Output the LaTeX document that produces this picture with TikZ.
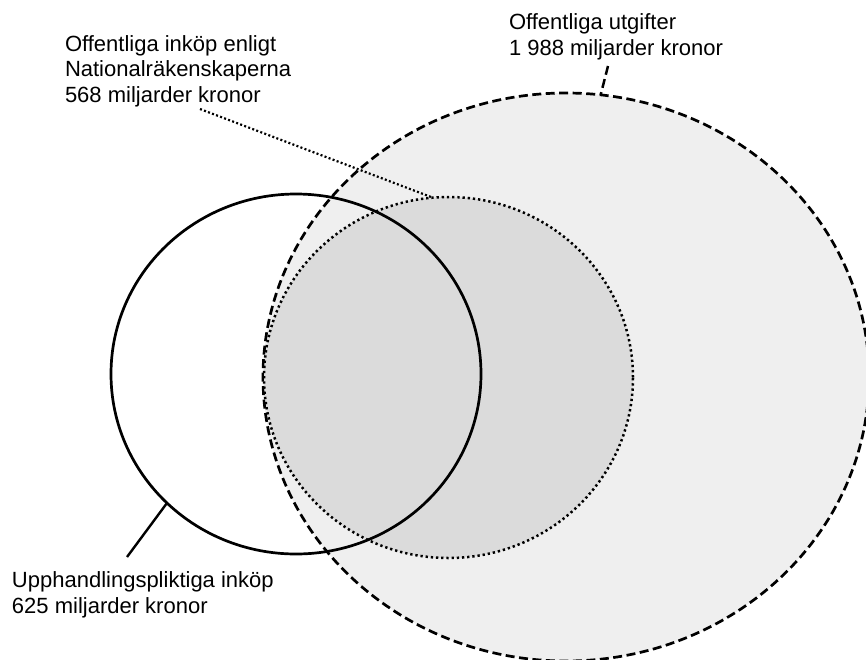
\documentclass[tikz,border=0pt]{standalone}
\usepackage{fontspec}
\setmainfont{Liberation Sans}
\usetikzlibrary{shapes.geometric,calc}
\definecolor{outerfill}{RGB}{239,239,239}
\definecolor{innerfill}{RGB}{219,219,219}
\tikzset{
  lbl/.style={anchor=north west, inner sep=0pt, outer sep=0pt, align=left,
              font=\fontsize{22}{25.5}\selectfont},
  ring/.style={ellipse, inner sep=0pt, outer sep=0pt},
  bigring/.style={ring, draw=black, fill=outerfill, line width=2.7pt,
                  dash pattern=on 9pt off 4.5pt},
  dotring/.style={ring, draw=black, fill=innerfill, line width=2.5pt,
                  dash pattern=on 2.3pt off 2.9pt},
  solidring/.style={ring, draw=black, line width=2.7pt},
  dashlead/.style={line width=2.5pt, dash pattern=on 9pt off 4.5pt},
  dotlead/.style={line width=2.2pt, dash pattern=on 2pt off 2.3pt},
  solidlead/.style={line width=2.4pt}
}
\begin{document}
\begin{tikzpicture}[x=1pt,y=-1pt]
\useasboundingbox (0,0) rectangle (866,659);
\begin{scope}
\clip (0,0) rectangle (866,659);
\node[bigring, minimum width=606pt, minimum height=568pt] (big) at (566,377) {};
\node[dotring, minimum width=369pt, minimum height=361pt] (dotc) at (448.5,377.5) {};
\node[solidring, minimum width=370pt, minimum height=360pt] (solid) at (296,374) {};
\end{scope}

\node[lbl] (lblA) at (65,35.5) {Offentliga inköp enligt\\Nationalräkenskaperna\\568 miljarder kronor};
\node[lbl] (lblB) at (509,14) {Offentliga utgifter\\1 988 miljarder kronor};
\node[lbl] (lblC) at (12,572) {Upphandlingspliktiga inköp\\625 miljarder kronor};

\coordinate (tA) at (200,109);
\coordinate (tB) at (608,66);
\coordinate (tC) at (127,557);

\draw[dotlead] (tA) -- (dotc.95.9);
\draw[dashlead] (tB) -- (big.83.6);
\draw[solidlead] (tC) -- (solid.225);
\end{tikzpicture}
\end{document}
